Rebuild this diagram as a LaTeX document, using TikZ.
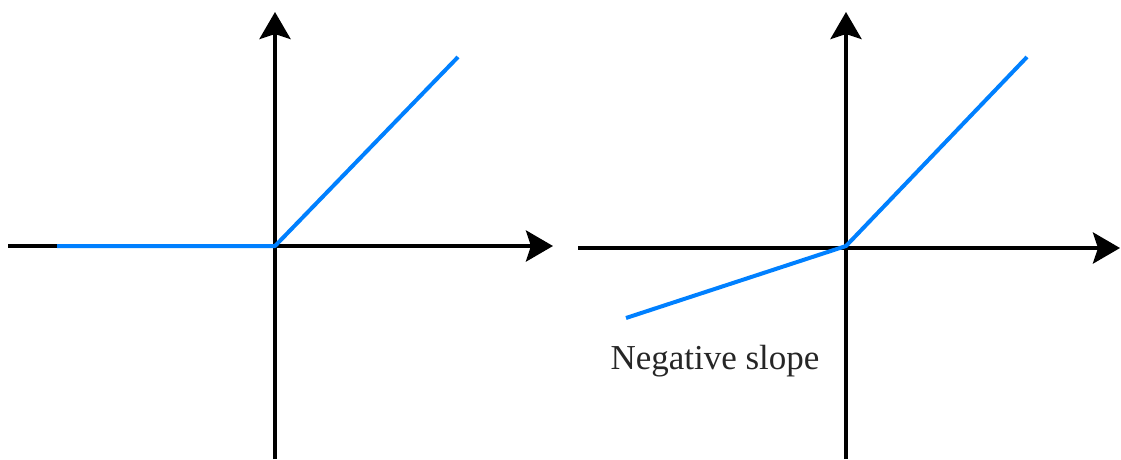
\documentclass[tikz,border=0pt]{standalone}
\usepackage{fontspec}
\setmainfont{Liberation Serif}
\usepackage{xcolor}
\usetikzlibrary{arrows.meta}
\definecolor{ReluBlue}{HTML}{0080FF}

\begin{document}
\begin{tikzpicture}[x=1pt,y=-1pt,
  axis/.style={line width=4pt,-{Stealth[length=27pt,width=31pt,inset=5pt]}},
  relu/.style={line width=4pt,draw=ReluBlue,line join=round}]
  \useasboundingbox (0,0) rectangle (1121,459);
  % axes of both panels
  \foreach \ox/\hl/\hr/\hy/\id in {275/8/553/246/L,846/578/1120/248/R}{
    \coordinate (o\id) at (\ox,\hy);
    \coordinate (xs\id) at (\hl,\hy);
    \coordinate (xe\id) at (\hr,\hy);
    \coordinate (ys\id) at (\ox,459);
    \coordinate (ye\id) at (\ox,12);
    \draw[axis] (xs\id) -- (xe\id);
    \draw[axis] (ys\id) -- (ye\id);
  }
  % ReLU
  \coordinate (reluA) at (57,246);
  \coordinate (reluB) at (458,57);
  \draw[relu] (reluA) -- (oL) -- (reluB);
  % leaky ReLU
  \coordinate (leakyA) at (626,318);
  \coordinate (leakyO) at (846,246);
  \coordinate (leakyB) at (1027,57);
  \draw[relu] (leakyA) -- (leakyO) -- (leakyB);
  \node[font=\fontsize{35}{42}\selectfont,text=black!85] (slope) at (715,361) {Negative slope};
\end{tikzpicture}
\end{document}
